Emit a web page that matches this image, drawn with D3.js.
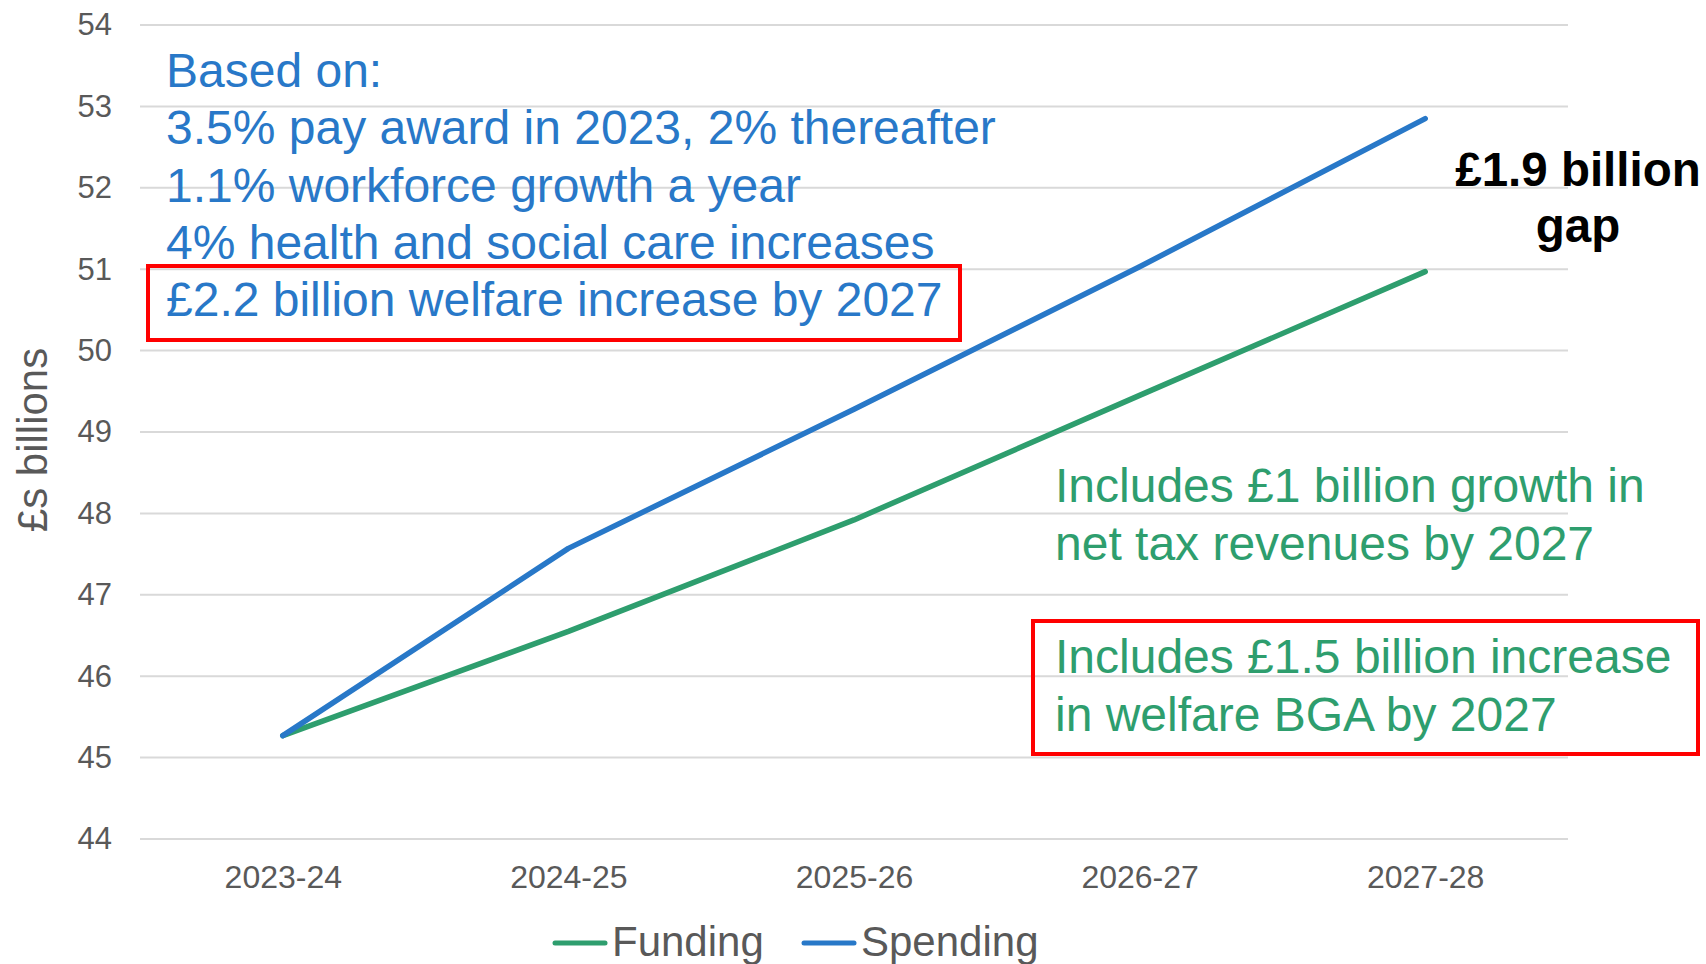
<!DOCTYPE html>
<html>
<head>
<meta charset="utf-8">
<script src="https://cdn.jsdelivr.net/npm/d3@7/dist/d3.min.js"></script>
<style>
  html, body { margin: 0; padding: 0; background: #ffffff; }
  svg { display: block; font-family: "Liberation Sans", Arial, sans-serif; }
</style>
</head>
<body>
<svg id="chart" width="1706" height="964"></svg>
<script>
// Financial years on the x axis
const categories = ["2023-24", "2024-25", "2025-26", "2026-27", "2027-28"];
// £ billions
const funding  = [45.27, 46.55, 47.92, 49.45, 50.97];
const spending = [45.27, 47.57, 49.28, 51.03, 52.85];
const yTicks = [44, 45, 46, 47, 48, 49, 50, 51, 52, 53, 54];

const seriesNames = ["Funding", "Spending"];
const seriesColors = ["#2E9E6E", "#2878C8"];

const assumptionLines = [
  "Based on:",
  "3.5% pay award in 2023, 2% thereafter",
  "1.1% workforce growth a year",
  "4% health and social care increases",
  "£2.2 billion welfare increase by 2027"
];
const taxNote = ["Includes £1 billion growth in", "net tax revenues by 2027"];
const bgaNote = ["Includes £1.5 billion increase", "in welfare BGA by 2027"];
const gapNote = ["£1.9 billion", "gap"];

const svg = d3.select("#chart");
const plot = { left: 140, right: 1568, top: 25, bottom: 839 };

const x = d3.scalePoint().domain(categories).range([plot.left, plot.right]).padding(0.5);
const y = d3.scaleLinear().domain([44, 54]).range([plot.bottom, plot.top]);

// horizontal gridlines
svg.append("g")
  .selectAll("line")
  .data(yTicks)
  .join("line")
  .attr("x1", plot.left).attr("x2", plot.right)
  .attr("y1", d => y(d)).attr("y2", d => y(d))
  .attr("stroke", "#D9D9D9").attr("stroke-width", 2);

// y axis labels
const yAxis = svg.append("g")
  .attr("transform", `translate(${plot.left - 28},0)`)
  .call(d3.axisLeft(y).tickValues(yTicks).tickSize(0).tickPadding(0));
yAxis.select(".domain").remove();
yAxis.selectAll("text")
  .attr("font-size", 31).attr("fill", "#595959")
  .attr("font-family", "Liberation Sans, Arial, sans-serif");

// x axis labels
const xAxis = svg.append("g")
  .attr("transform", `translate(0,${plot.bottom})`)
  .call(d3.axisBottom(x).tickSize(0).tickPadding(26));
xAxis.select(".domain").remove();
xAxis.selectAll("text")
  .attr("font-size", 32).attr("fill", "#595959")
  .attr("font-family", "Liberation Sans, Arial, sans-serif");

// y axis title
svg.append("text")
  .attr("transform", "translate(47,440) rotate(-90)")
  .attr("text-anchor", "middle")
  .attr("font-size", 42).attr("fill", "#595959")
  .text("£s billions");

// series lines
const line = d3.line().x((d, i) => x(categories[i])).y(d => y(d));
[funding, spending].forEach((vals, k) => {
  svg.append("path")
    .datum(vals)
    .attr("d", line)
    .attr("fill", "none")
    .attr("stroke", seriesColors[k])
    .attr("stroke-width", 5.5)
    .attr("stroke-linecap", "round")
    .attr("stroke-linejoin", "round");
});

// assumptions block
const blue = seriesColors[1], green = seriesColors[0];
svg.append("g").selectAll("text")
  .data(assumptionLines)
  .join("text")
  .attr("x", 166).attr("y", (d, i) => 87 + i * 57.3)
  .attr("font-size", 48).attr("fill", blue)
  .text(d => d);

svg.append("rect")
  .attr("x", 148).attr("y", 266).attr("width", 812).attr("height", 74)
  .attr("fill", "none").attr("stroke", "#FF0000").attr("stroke-width", 4);

// funding notes
svg.append("g").selectAll("text")
  .data(taxNote)
  .join("text")
  .attr("x", 1055).attr("y", (d, i) => 502 + i * 57.5)
  .attr("font-size", 48).attr("fill", green)
  .text(d => d);

svg.append("g").selectAll("text")
  .data(bgaNote)
  .join("text")
  .attr("x", 1055).attr("y", (d, i) => 673 + i * 57.5)
  .attr("font-size", 48).attr("fill", green)
  .text(d => d);

svg.append("rect")
  .attr("x", 1033).attr("y", 621).attr("width", 665).attr("height", 133)
  .attr("fill", "none").attr("stroke", "#FF0000").attr("stroke-width", 4);

// gap label
svg.append("g").selectAll("text")
  .data(gapNote)
  .join("text")
  .attr("x", 1578).attr("y", (d, i) => 186 + i * 56)
  .attr("text-anchor", "middle")
  .attr("font-size", 47.5).attr("font-weight", "bold").attr("fill", "#000000")
  .text(d => d);

// legend
const legendItems = [
  { name: seriesNames[0], color: seriesColors[0], x: 555 },
  { name: seriesNames[1], color: seriesColors[1], x: 804 }
];
const lg = svg.append("g").selectAll("g").data(legendItems).join("g")
  .attr("transform", d => `translate(${d.x},0)`);
lg.append("line")
  .attr("x1", 0).attr("x2", 50).attr("y1", 943).attr("y2", 943)
  .attr("stroke", d => d.color).attr("stroke-width", 5).attr("stroke-linecap", "round");
lg.append("text")
  .attr("x", 57).attr("y", 956)
  .attr("font-size", 42).attr("fill", "#595959")
  .text(d => d.name);
</script>
</body>
</html>
